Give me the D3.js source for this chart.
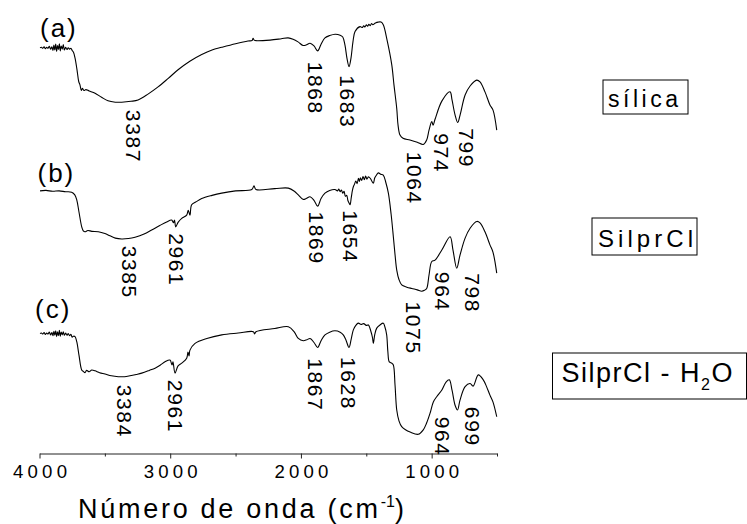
<!DOCTYPE html>
<html><head><meta charset="utf-8">
<script src="https://cdn.jsdelivr.net/npm/d3@7"></script>
<style>
body{margin:0;background:#fff}
svg{display:block}
text{font-family:"Liberation Sans",Arimo,Arial,Helvetica,Roboto,sans-serif;fill:#000}
</style>
</head><body>
<svg id="chart" width="747" height="524"></svg>
<script>
// FTIR spectra: [wavenumber (cm-1), transmittance (a.u., stacked)]
const silica = [[3996,90.5],[3985,90.6],[3975,90.4],[3965,90.7],[3955,90.3],[3945,90.6],[3935,90.4],[3925,90.8],[3915,90.2],[3905,90.7],[3897,89.9],[3890,91.1],[3883,90.0],[3876,91.3],[3869,89.7],[3862,91.0],[3855,90.1],[3848,91.4],[3841,89.8],[3834,90.9],[3826,90.2],[3818,91.2],[3810,90.0],[3800,90.6],[3790,90.1],[3780,90.5],[3770,90.2],[3760,90.4],[3750,89.9],[3740,89.5],[3728,88.2],[3713,85.6],[3700,83.0],[3690,82.2],[3680,81.0],[3672,81.5],[3660,81.0],[3645,81.2],[3620,80.9],[3575,80.4],[3525,79.5],[3476,78.7],[3420,78.4],[3371,78.4],[3300,78.6],[3246,78.9],[3170,80.2],[3093,81.8],[3015,83.7],[2940,85.6],[2850,87.5],[2759,89.0],[2680,90.0],[2606,90.6],[2500,91.4],[2405,92.0],[2374,92.1],[2366,92.6],[2358,92.2],[2351,92.1],[2236,92.2],[2150,92.5],[2098,92.7],[2060,92.4],[2022,91.8],[1984,91.0],[1961,91.1],[1930,91.5],[1900,90.9],[1872,89.8],[1846,91.3],[1816,92.7],[1780,93.2],[1739,93.5],[1700,93.3],[1680,92.9],[1663,91.1],[1648,88.2],[1632,86.3],[1617,88.2],[1602,91.8],[1586,94.1],[1548,95.2],[1530,95.0],[1520,95.4],[1510,95.1],[1500,95.6],[1490,95.3],[1480,95.7],[1470,95.4],[1460,95.9],[1450,95.6],[1430,96.0],[1408,96.2],[1387,96.2],[1370,95.6],[1341,92.2],[1305,86.7],[1288,82.2],[1267,77.0],[1257,73.3],[1242,71.1],[1219,70.4],[1166,70.0],[1110,69.5],[1064,69.0],[1038,70.0],[1020,72.2],[999,74.1],[989,73.3],[974,74.6],[921,78.7],[859,80.7],[844,78.9],[821,75.6],[800,73.9],[782,75.6],[744,80.0],[706,82.0],[655,83.3],[630,82.9],[592,80.7],[554,77.8],[531,76.7],[502,72.2]];

const silprcl = [[3996,58.7],[3950,58.8],[3900,58.6],[3850,58.7],[3800,58.5],[3754,58.4],[3730,57.8],[3715,56.7],[3698,54.0],[3677,50.7],[3665,49.8],[3652,49.6],[3630,49.9],[3600,49.7],[3550,49.6],[3500,49.2],[3461,48.7],[3420,48.2],[3371,48.0],[3320,48.1],[3269,48.4],[3200,49.1],[3142,50.0],[3080,51.0],[3027,51.8],[2989,52.2],[2975,51.6],[2967,52.2],[2958,50.7],[2940,51.7],[2912,52.6],[2874,53.3],[2862,54.4],[2849,53.3],[2836,55.6],[2800,56.3],[2759,57.0],[2680,57.7],[2606,58.2],[2500,58.7],[2376,59.0],[2359,59.8],[2344,59.0],[2200,59.2],[2096,59.3],[2050,58.6],[2020,57.8],[1982,56.8],[1960,57.0],[1930,57.4],[1900,56.6],[1872,55.3],[1846,57.0],[1816,58.2],[1780,58.8],[1740,59.0],[1720,58.7],[1710,59.1],[1700,58.5],[1690,58.9],[1680,58.2],[1670,58.6],[1660,57.5],[1650,57.7],[1640,56.5],[1630,55.9],[1624,55.6],[1615,57.2],[1606,58.8],[1599,59.6],[1590,60.2],[1580,60.9],[1570,60.3],[1560,61.5],[1552,60.8],[1545,61.6],[1535,61.0],[1525,61.9],[1515,61.2],[1505,62.0],[1495,61.3],[1484,61.8],[1470,61.5],[1460,61.0],[1446,60.4],[1435,61.6],[1420,62.3],[1408,62.7],[1390,62.4],[1370,62.2],[1350,60.5],[1331,58.2],[1310,53.5],[1293,48.5],[1280,44.5],[1267,41.1],[1250,39.0],[1229,37.8],[1190,37.3],[1152,37.0],[1110,36.7],[1076,36.4],[1055,36.6],[1038,37.0],[1020,40.0],[999,43.0],[974,43.3],[921,45.6],[859,48.5],[837,45.6],[808,41.5],[783,44.4],[744,48.2],[706,50.4],[655,51.9],[630,51.6],[592,49.6],[554,46.7],[531,45.1],[502,40.4]];

const silprclH2O = [[3996,27.0],[3985,27.1],[3975,26.9],[3965,27.2],[3955,26.8],[3945,27.1],[3935,26.9],[3925,27.3],[3915,26.7],[3905,27.2],[3897,26.5],[3890,27.5],[3883,26.6],[3876,27.6],[3869,26.3],[3862,27.4],[3855,26.5],[3848,27.7],[3841,26.4],[3834,27.3],[3826,26.7],[3818,27.4],[3810,26.6],[3800,27.1],[3790,26.6],[3780,27.0],[3770,26.5],[3760,26.8],[3750,26.2],[3740,26.4],[3728,26.3],[3715,25.2],[3698,22.2],[3677,18.9],[3665,18.6],[3652,18.3],[3640,18.8],[3620,18.5],[3600,18.9],[3575,18.7],[3540,18.3],[3499,18.0],[3450,17.6],[3397,17.4],[3350,17.4],[3308,17.6],[3260,17.9],[3218,18.2],[3160,18.8],[3116,19.3],[3075,20.0],[3040,20.7],[3002,21.1],[2986,20.0],[2979,20.7],[2963,18.2],[2940,19.8],[2912,20.4],[2874,21.5],[2864,22.9],[2856,22.0],[2849,23.3],[2810,24.8],[2720,25.9],[2606,26.7],[2480,27.1],[2364,27.4],[2355,26.9],[2344,27.4],[2200,28.1],[2096,28.5],[2050,27.3],[2020,25.9],[1982,25.4],[1955,25.6],[1930,25.9],[1900,25.0],[1872,23.9],[1846,25.4],[1816,26.7],[1780,27.3],[1740,27.6],[1700,27.3],[1676,26.7],[1655,25.5],[1632,23.9],[1615,25.8],[1599,27.8],[1580,28.8],[1561,29.3],[1540,29.0],[1520,29.2],[1500,28.8],[1484,28.9],[1465,27.5],[1452,26.0],[1446,24.8],[1435,26.8],[1420,28.2],[1395,28.9],[1370,29.3],[1358,28.5],[1344,26.7],[1335,23.0],[1324,20.7],[1305,20.4],[1293,20.0],[1280,15.5],[1267,10.0],[1250,7.6],[1229,6.3],[1200,5.6],[1165,5.1],[1102,4.6],[1064,5.6],[1040,7.0],[1012,9.3],[987,11.8],[960,13.0],[923,14.4],[890,16.2],[865,16.7],[844,14.4],[820,11.0],[802,10.0],[783,12.2],[744,15.2],[706,15.9],[683,15.3],[643,17.8],[605,16.7],[580,15.2],[554,13.3],[531,11.8],[502,8.5]];

// Band assignments written along each spectrum: [label, wavenumber where it sits, top of label (a.u.)]
const peaksSilica = [["3387",3282,76.7],["1868",1892,87.4],["1683",1640,84.4],["1064",1129,67.4],["974",923,71.5],["799",737,72.6]];
const peaksSilprcl = [["3385",3315,46.5],["2961",2950,49.3],["1869",1879,54.1],["1654",1617,54.4],["1075",1135,34.1],["964",918,40.7],["798",689,40.4]];
const peaksSilprclH2O = [["3384",3346,15.6],["2961",2963,16.7],["1867",1892,21.5],["1628",1637,21.8],["964",918,8.5],["699",689,10.7]];

const majorTicks = [4000, 3000, 2000, 1000];
const minorTicks = [3500, 2500, 1500, 500];
const panelTags = ["(a)", "(b)", "(c)"];

const svg = d3.select("#chart");
const x = d3.scaleLinear().domain([4000, 500]).range([39.5, 497]);
const y = d3.scaleLinear().domain([0, 100]).range([455, 5]);

const line = d3.line().x(d => x(d[0])).y(d => y(d[1])).curve(d3.curveCatmullRom.alpha(0.5));

[silica, silprcl, silprclH2O].forEach(s => {
  svg.append("path").datum(s).attr("d", line)
    .attr("fill", "none").attr("stroke", "#000").attr("stroke-width", 1.1);
});

// band labels, rotated to read downwards
[peaksSilica, peaksSilprcl, peaksSilprclH2O].forEach(list => {
  list.forEach(([t, at, top]) => {
    svg.append("text")
      .attr("transform", `translate(${x(at)},${y(top)}) rotate(90)`)
      .attr("dominant-baseline", "central")
      .attr("font-size", 21)
      .attr("letter-spacing", 1.6)
      .text(t);
  });
});

// bottom axis
const axisY = 453.5;
const gMinor = svg.append("g").attr("transform", `translate(0,${axisY})`)
  .call(d3.axisBottom(x).tickValues(minorTicks).tickSize(3).tickSizeOuter(0).tickFormat(""));
gMinor.select(".domain").remove();
const gAxis = svg.append("g").attr("transform", `translate(0,${axisY})`)
  .call(d3.axisBottom(x).tickValues(majorTicks).tickSize(5).tickSizeOuter(0).tickFormat(d3.format("d")));
svg.selectAll(".tick line").attr("stroke", "#222");
gAxis.select(".domain").attr("stroke", "#222");
gAxis.selectAll(".tick text")
  .attr("y", 24.5).attr("dy", null)
  .attr("font-size", 18.6)
  .attr("font-family", null)
  .attr("textLength", 54).attr("lengthAdjust", "spacing");

// axis title
const title = svg.append("text").attr("x", 78).attr("y", 517.5).attr("font-size", 27);
title.append("tspan").text("Número de onda (cm").attr("textLength", 300).attr("lengthAdjust", "spacing");
title.append("tspan").attr("dy", -11).attr("font-size", 16).text("-1");
title.append("tspan").attr("dy", 11).text(")");

// panel tags
const tagPos = [[40, 36.5], [37.5, 182], [35, 318]];
panelTags.forEach((t, i) => {
  svg.append("text").attr("x", tagPos[i][0]).attr("y", tagPos[i][1])
    .attr("font-size", 26).attr("letter-spacing", 2).text(t);
});

// sample name boxes
const boxes = [
  {x: 603, y: 80, w: 85, h: 34, tx: 608, ty: 106.5, fs: 23, tl: 70, parts: [["sílica"]]},
  {x: 592, y: 218, w: 105, h: 37, tx: 598, ty: 246.5, fs: 24, tl: 95, parts: [["SilprCl"]]},
  {x: 552.5, y: 353, w: 194, h: 46, tx: 561.5, ty: 382, fs: 27, tl: null, parts: [["SilprCl - H"], ["2", "sub"], ["O"]]}
];
boxes.forEach(b => {
  svg.append("rect").attr("x", b.x).attr("y", b.y).attr("width", b.w).attr("height", b.h)
    .attr("fill", "none").attr("stroke", "#000").attr("stroke-width", 1);
  const t = svg.append("text").attr("x", b.tx).attr("y", b.ty).attr("font-size", b.fs);
  if (b.tl) {
    t.attr("textLength", b.tl).attr("lengthAdjust", "spacing").text(b.parts[0][0]);
    return;
  }
  t.attr("letter-spacing", 1.5);
  b.parts.forEach((p, i) => {
    const ts = t.append("tspan").text(p[0]);
    if (p[1] === "sub") ts.attr("font-size", 16).attr("dy", 8);
    else if (i > 0) ts.attr("dy", -8);
  });
});
</script>
</body></html>
